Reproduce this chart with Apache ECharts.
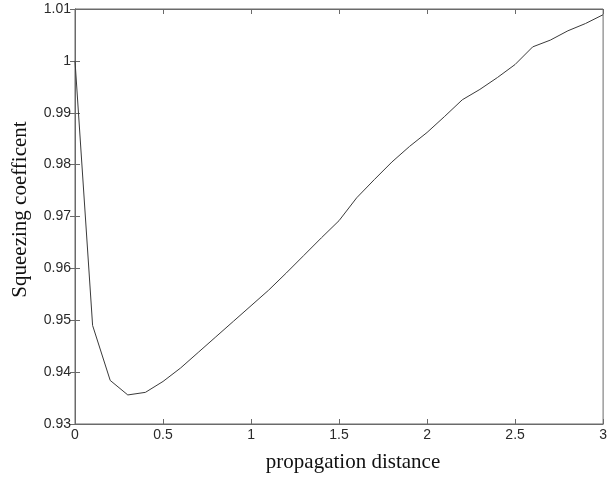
<!DOCTYPE html>
<html>
<head>
<meta charset="utf-8">
<script src="https://cdn.jsdelivr.net/npm/echarts@6/dist/echarts.min.js"></script>
<style>html,body{margin:0;padding:0;background:#fff;}#c{width:610px;height:478px;}</style>
</head>
<body>
<div id="c"></div>
<script>
const distance = [0.0,0.1,0.2,0.3,0.4,0.5,0.6,0.7,0.8,0.9,1.0,1.1,1.2,1.3,1.4,1.5,1.6,1.7,1.8,1.9,2.0,2.1,2.2,2.3,2.4,2.5,2.6,2.7,2.8,2.9,3.0];
const squeezing = [1.0000,0.9490,0.9384,0.9356,0.9361,0.9382,0.9408,0.9438,0.9468,0.9498,0.9528,0.9558,0.9591,0.9625,0.9659,0.9692,0.9736,0.9771,0.9805,0.9835,0.9862,0.9893,0.9925,0.9945,0.9968,0.9993,1.0027,1.0040,1.0058,1.0072,1.0089];
const xTitle = 'propagation distance';
const yTitle = 'Squeezing coefficent';

const chart = echarts.init(document.getElementById('c'), null, {renderer:'canvas'});
const axisCol = '#6a6a6a';
const lblStyle = {color:'#2a2a2a', fontFamily:'Liberation Sans', fontSize:14};
const fmt = v => String(Number(v.toFixed(2)));
chart.setOption({
  animation:false,
  backgroundColor:'#fff',
  grid:{left:75, right:3, top:9, bottom:50, show:true, borderColor:axisCol, borderWidth:1},
  xAxis:[{
    type:'value', min:0, max:3, interval:0.5, position:'bottom',
    axisLine:{show:true, lineStyle:{color:axisCol}},
    axisTick:{show:true, inside:true, length:5, lineStyle:{color:axisCol}},
    axisLabel:Object.assign({margin:4, formatter:fmt, showMaxLabel:true}, lblStyle),
    splitLine:{show:false},
    name:xTitle, nameLocation:'middle', nameGap:28,
    nameTextStyle:{fontFamily:'Liberation Serif', fontSize:21, color:'#111', padding:[0,0,0,28]}
  },{
    type:'value', min:0, max:3, interval:0.5, position:'top',
    axisLine:{show:true, lineStyle:{color:axisCol}},
    axisTick:{show:true, inside:true, length:5, lineStyle:{color:axisCol}},
    axisLabel:{show:false}, splitLine:{show:false}
  }],
  yAxis:[{
    type:'value', min:0.93, max:1.01, interval:0.01, position:'left',
    axisLine:{show:true, lineStyle:{color:axisCol}},
    axisTick:{show:true, inside:true, length:5, lineStyle:{color:axisCol}},
    axisLabel:Object.assign({margin:4, formatter:fmt, showMaxLabel:true, showMinLabel:true}, lblStyle),
    splitLine:{show:false},
    name:yTitle, nameLocation:'middle', nameGap:44,
    nameTextStyle:{fontFamily:'Liberation Serif', fontSize:21, color:'#111', padding:[0,0,0,14]}
  },{
    type:'value', min:0.93, max:1.01, interval:0.01, position:'right',
    axisLine:{show:true, lineStyle:{color:axisCol}},
    axisTick:{show:true, inside:true, length:5, lineStyle:{color:axisCol}},
    axisLabel:{show:false}, splitLine:{show:false}
  }],
  series:[{
    type:'line', xAxisIndex:0, yAxisIndex:0,
    data: distance.map((d,i)=>[d, squeezing[i]]),
    showSymbol:false, symbol:'none', smooth:false,
    lineStyle:{color:'#3a3a3a', width:1}
  }]
});
</script>
</body>
</html>
